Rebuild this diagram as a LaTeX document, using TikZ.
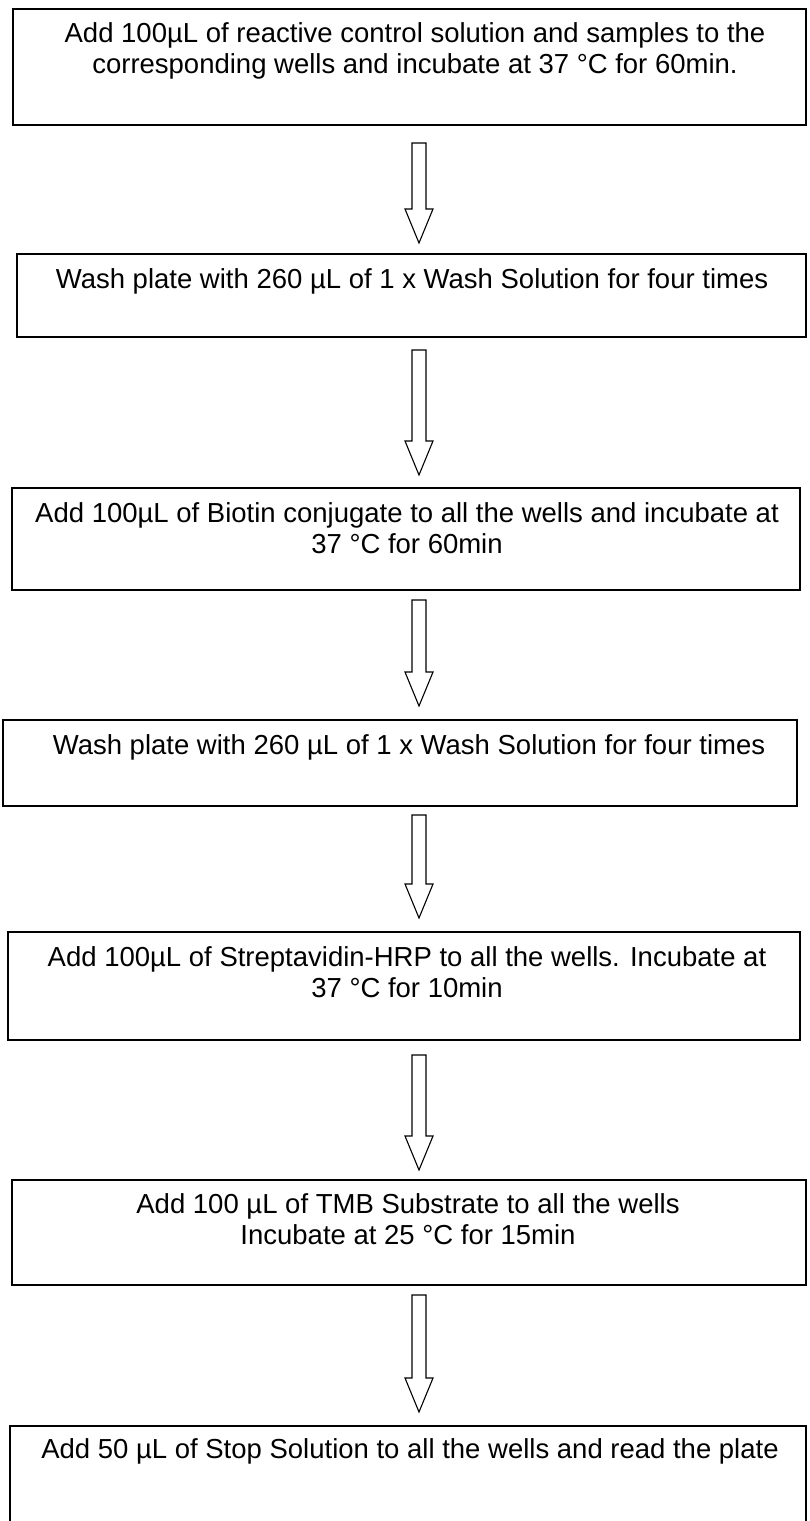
\documentclass[tikz,border=0pt]{standalone}
\usepackage{fontspec}
\setmainfont{Liberation Sans}
\usetikzlibrary{calc}
% hollow block arrow from the tail coordinate #1 down to the tip coordinate #2
\newcommand\blockarrow[2]{%
  \path[flowarrow] let \p1=(#1), \p2=(#2) in
    (\x1-7pt,\y1) -- (\x1+7pt,\y1) -- (\x1+7pt,\y2+34pt) -- (\x1+14pt,\y2+34pt)
    -- (\x1,\y2) -- (\x1-14pt,\y2+34pt) -- (\x1-7pt,\y2+34pt) -- cycle;}
\begin{document}
\begin{tikzpicture}[x=1pt,y=-1pt,
  stepbox/.style={draw, line width=1.8pt, rectangle, inner sep=0pt},
  steptext/.style={font=\fontsize{27.5}{31}\selectfont, align=center, anchor=north, inner sep=0pt},
  flowarrow/.style={draw, line width=1.1pt, fill=white, line join=miter}]
\useasboundingbox (0,0) rectangle (809,1521);
\clip (0,0) rectangle (809,1521);

% process steps
\node[stepbox, minimum width=793, minimum height=116] (b1) at (409.5,67) {};
\node[stepbox, minimum width=789, minimum height=83]  (b2) at (411.5,295.5) {};
\node[stepbox, minimum width=788, minimum height=102] (b3) at (406,539) {};
\node[stepbox, minimum width=794, minimum height=86]  (b4) at (400,763) {};
\node[stepbox, minimum width=792, minimum height=108] (b5) at (404,986) {};
\node[stepbox, minimum width=794, minimum height=105] (b6) at (409,1232.5) {};
\node[stepbox, minimum width=796, minimum height=104] (b7) at (408,1478) {};

\node[steptext] (t1) at (415,22) {Add 100µL of reactive control solution and samples to the\\corresponding wells and incubate at 37 °C for 60min.};
\node[steptext] (t2) at (412,268) {Wash plate with 260 µL of 1 x Wash Solution for four times};
\node[steptext] (t3) at (407,502) {Add 100µL of Biotin conjugate to all the wells and incubate at\\37 °C for 60min};
\node[steptext] (t4) at (409,734) {Wash plate with 260 µL of 1 x Wash Solution for four times};
\node[steptext] (t5) at (407,946) {Add 100µL of Streptavidin-HRP to all the wells. Incubate at\\37 °C for 10min};
\node[steptext] (t6) at (408,1193) {Add 100 µL of TMB Substrate to all the wells\\Incubate at 25 °C for 15min};
\node[steptext] (t7) at (410,1438) {Add 50 µL of Stop Solution to all the wells and read the plate};

% arrow ends between the steps
\coordinate (a1s) at (419,143);  \coordinate (a1e) at (419,243);
\coordinate (a2s) at (419,350);  \coordinate (a2e) at (419,475);
\coordinate (a3s) at (419,600);  \coordinate (a3e) at (419,706);
\coordinate (a4s) at (419,815);  \coordinate (a4e) at (419,918);
\coordinate (a5s) at (419,1055); \coordinate (a5e) at (419,1170);
\coordinate (a6s) at (419,1295); \coordinate (a6e) at (419,1412);

\blockarrow{a1s}{a1e}
\blockarrow{a2s}{a2e}
\blockarrow{a3s}{a3e}
\blockarrow{a4s}{a4e}
\blockarrow{a5s}{a5e}
\blockarrow{a6s}{a6e}
\end{tikzpicture}
\end{document}
